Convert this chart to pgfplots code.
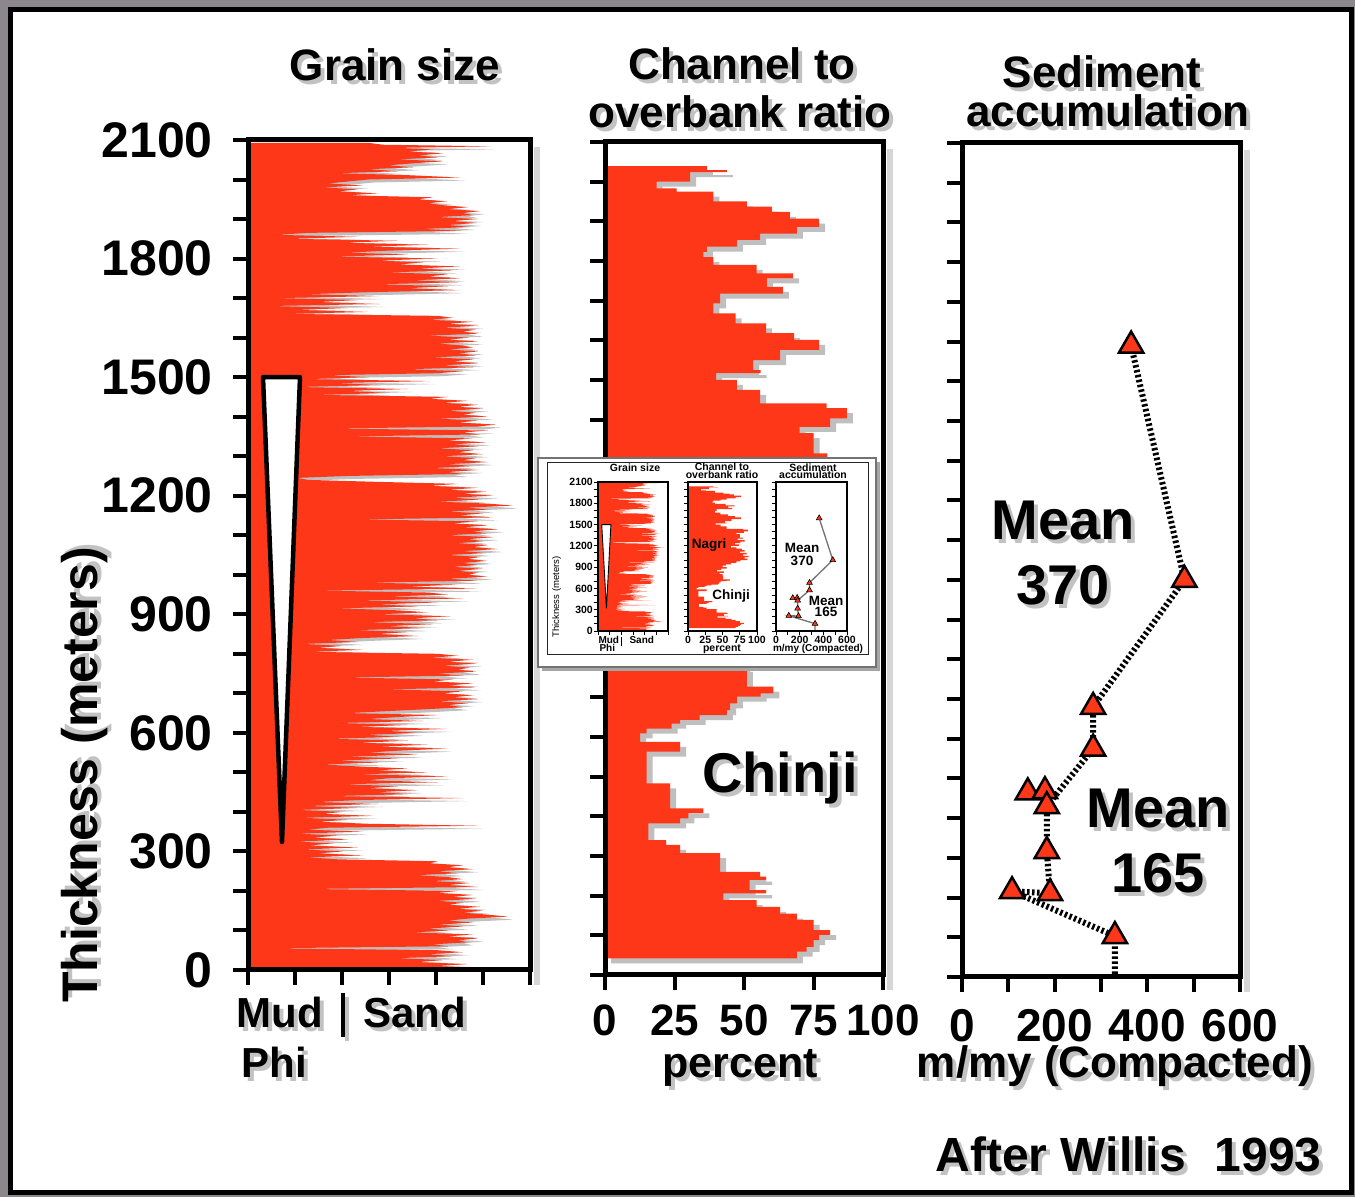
\documentclass[border=0pt]{standalone}
\usepackage{pgfplots}
\pgfplotsset{compat=1.18}
\usepackage{pgfplotstable}
\usepackage{fontspec}
\setmainfont{Liberation Sans}
\definecolor{rd}{RGB}{255,55,25}
\definecolor{bgc}{RGB}{140,135,140}
\newcommand\fs[1]{\fontsize{#1}{#1}\selectfont\bfseries}
\newcommand\fr[1]{\fontsize{#1}{#1}\selectfont}
\newcommand\stxt[3][]{\node[#1,text=black!24,xshift=4pt,yshift=-4pt] at #2 {#3};\node[#1] at #2 {#3};}
\pgfplotsset{
  /pgf/number format/assume math mode=true,
  /pgf/number format/1000 sep={},
  mainax/.style={scale only axis, anchor=south west, axis on top,
    axis line style={line width=5pt},
    tick align=outside, tick pos=left,
    major tick length=15pt, minor tick length=15pt,
    every tick/.style={black,line width=4pt}},
  insetax/.style={scale only axis, anchor=south west, axis on top,
    axis line style={line width=1.3pt},
    tick align=outside, tick pos=left,
    major tick length=4pt, minor tick length=4pt,
    every tick/.style={black,line width=0.9pt},
    ticklabel style={font=\fs{10.5}, inner sep=1pt}},
}
\pgfplotstableread[row sep=\\]{
w y\\ 0 2093\\ 120 2093\\ 135 2088\\ 242 2084\\ 150 2080\\ 185 2076\\ 160 2071\\ 195 2066\\ 170 2061\\ 190 2056\\ 150 2051\\ 195 2046\\ 165 2041\\ 140 2036\\ 165 2031\\ 120 2026\\ 150 2021\\ 89 2016\\ 160 2011\\ 212 2005\\ 120 2000\\
100 1995\\ 80 1990\\ 115 1985\\ 75 1980\\ 110 1975\\ 90 1970\\ 130 1965\\ 100 1960\\ 185 1955\\ 170 1950\\ 199 1945\\ 180 1940\\ 195 1935\\ 220 1930\\ 200 1925\\ 232 1920\\ 215 1915\\ 225 1910\\ 190 1905\\ 230 1900\\
205 1895\\ 228 1890\\ 200 1885\\ 222 1880\\ 175 1875\\ 215 1870\\ 60 1865\\ 29 1860\\ 110 1855\\ 40 1850\\ 150 1845\\ 95 1840\\ 180 1835\\ 120 1830\\ 212 1825\\ 140 1820\\ 100 1815\\ 160 1810\\ 85 1805\\ 190 1800\\
130 1795\\ 175 1790\\ 150 1785\\ 212 1780\\ 170 1775\\ 205 1770\\ 140 1765\\ 200 1760\\ 180 1755\\ 212 1750\\ 165 1745\\ 210 1740\\ 130 1735\\ 200 1730\\ 160 1725\\ 210 1720\\ 122 1715\\ 60 1710\\ 130 1705\\ 30 1700\\
110 1695\\ 70 1690\\ 132 1685\\ 22 1680\\ 100 1675\\ 50 1670\\ 120 1665\\ 40 1660\\ 190 1655\\ 205 1650\\ 182 1645\\ 225 1640\\ 200 1635\\ 230 1630\\ 195 1625\\ 228 1620\\ 215 1615\\ 230 1610\\ 180 1605\\ 222 1600\\
200 1595\\ 230 1590\\ 190 1585\\ 215 1580\\ 225 1575\\ 200 1570\\ 230 1565\\ 210 1560\\ 228 1555\\ 185 1550\\ 226 1545\\ 205 1540\\ 230 1535\\ 195 1530\\ 225 1525\\ 160 1520\\ 215 1515\\ 190 1510\\ 80 1505\\ 120 1500\\
60 1495\\ 182 1490\\ 90 1485\\ 130 1480\\ 49 1475\\ 160 1470\\ 100 1465\\ 140 1460\\ 70 1455\\ 200 1450\\ 182 1445\\ 220 1440\\ 195 1435\\ 230 1430\\ 210 1425\\ 235 1420\\ 200 1415\\ 228 1410\\ 215 1405\\ 240 1400\\
190 1395\\ 230 1390\\ 210 1385\\ 248 1380\\ 230 1375\\ 82 1370\\ 240 1365\\ 215 1360\\ 232 1355\\ 100 1350\\ 225 1345\\ 200 1340\\ 238 1335\\ 205 1330\\ 230 1325\\ 190 1320\\ 225 1315\\ 210 1310\\ 235 1305\\ 195 1300\\
228 1295\\ 215 1290\\ 240 1285\\ 200 1280\\ 225 1275\\ 185 1270\\ 230 1265\\ 200 1260\\ 215 1255\\ 100 1250\\ 49 1245\\ 60 1240\\ 130 1235\\ 210 1230\\ 182 1225\\ 230 1220\\ 200 1215\\ 238 1210\\ 215 1205\\ 245 1200\\
205 1195\\ 232 1190\\ 190 1185\\ 240 1180\\ 265 1175\\ 220 1170\\ 240 1165\\ 200 1160\\ 235 1155\\ 210 1150\\ 245 1145\\ 110 1140\\ 230 1135\\ 205 1130\\ 240 1125\\ 215 1120\\ 250 1115\\ 225 1110\\ 238 1105\\ 200 1100\\
245 1095\\ 220 1090\\ 235 1085\\ 210 1080\\ 240 1075\\ 225 1070\\ 250 1065\\ 215 1060\\ 238 1055\\ 200 1050\\ 232 1045\\ 220 1040\\ 239 1035\\ 215 1030\\ 230 1025\\ 205 1020\\ 235 1015\\ 210 1010\\ 230 1005\\ 220 1000\\
239 995\\ 200 990\\ 229 985\\ 120 980\\ 210 975\\ 160 970\\ 229 965\\ 69 960\\ 180 955\\ 200 950\\ 140 945\\ 215 940\\ 110 935\\ 190 930\\ 130 925\\ 170 920\\ 90 915\\ 150 910\\ 180 905\\ 130 900\\
202 895\\ 165 890\\ 190 885\\ 120 880\\ 185 875\\ 140 870\\ 175 865\\ 109 860\\ 160 855\\ 130 850\\ 170 845\\ 115 840\\ 80 835\\ 110 830\\ 55 825\\ 95 820\\ 70 815\\ 115 810\\ 60 805\\ 190 800\\
210 795\\ 182 790\\ 225 785\\ 200 780\\ 229 775\\ 195 770\\ 222 765\\ 210 760\\ 228 755\\ 190 750\\ 215 745\\ 95 740\\ 205 735\\ 185 730\\ 225 725\\ 200 720\\ 228 715\\ 140 710\\ 215 705\\ 195 700\\
225 695\\ 205 690\\ 229 685\\ 190 680\\ 220 675\\ 200 670\\ 215 665\\ 180 660\\ 140 655\\ 100 650\\ 190 645\\ 150 640\\ 120 635\\ 175 630\\ 90 625\\ 160 620\\ 110 615\\ 199 610\\ 140 605\\ 170 600\\
120 595\\ 150 590\\ 82 585\\ 160 580\\ 110 575\\ 180 570\\ 130 565\\ 199 560\\ 150 555\\ 120 550\\ 170 545\\ 100 540\\ 150 535\\ 90 530\\ 130 525\\ 75 520\\ 110 515\\ 160 510\\ 130 505\\ 180 500\\
110 495\\ 200 490\\ 140 485\\ 120 480\\ 190 475\\ 95 470\\ 150 465\\ 120 460\\ 170 455\\ 130 450\\ 160 445\\ 85 440\\ 215 435\\ 110 430\\ 70 425\\ 130 420\\ 60 415\\ 110 410\\ 50 405\\ 95 400\\
75 395\\ 125 390\\ 55 385\\ 100 380\\ 70 375\\ 120 370\\ 229 365\\ 80 360\\ 60 355\\ 115 350\\ 50 345\\ 90 340\\ 65 335\\ 100 330\\ 49 325\\ 85 320\\ 60 315\\ 110 310\\ 55 305\\ 95 300\\
70 295\\ 115 290\\ 60 285\\ 90 280\\ 190 275\\ 182 270\\ 215 265\\ 200 260\\ 225 255\\ 190 250\\ 210 245\\ 170 240\\ 200 235\\ 215 230\\ 185 225\\ 222 220\\ 200 215\\ 230 210\\ 60 205\\ 210 200\\
190 195\\ 225 190\\ 205 185\\ 228 180\\ 190 175\\ 215 170\\ 200 165\\ 232 160\\ 210 155\\ 235 150\\ 215 145\\ 240 140\\ 260 135\\ 220 130\\ 200 125\\ 225 120\\ 190 115\\ 215 110\\ 180 105\\ 200 100\\
165 95\\ 225 90\\ 200 85\\ 230 80\\ 210 75\\ 220 70\\ 185 65\\ 200 60\\ 22 55\\ 190 50\\ 215 45\\ 180 40\\ 205 35\\ 150 30\\ 195 25\\ 170 20\\ 220 15\\ 190 10\\ 235 5\\ 200 0\\ 0 0\\
}\grain
\pgfplotstableread[row sep=\\]{
p y\\ 0 2039\\ 36.6 2039\\ 36.6 2029\\ 43.8 2029\\ 43.8 2024\\ 30.6 2024\\ 30.6 2000\\ 18.6 2000\\ 18.6 1983\\ 25.8 1983\\ 25.8 1975\\ 39 1975\\ 39 1950\\ 51 1950\\ 51 1937\\ 60 1937\\ 60 1924\\ 66.5 1924\\ 66.5 1907\\ 77 1907\\ 77 1886\\ 69 1886\\ 69 1869\\ 55.8 1869\\ 55.8 1853\\ 47.4 1853\\ 47.4 1836\\ 36.6 1836\\ 36.6 1823\\ 35.4 1823\\ 35.4 1810\\ 39 1810\\ 39 1790\\ 54.5 1790\\ 54.5 1769\\ 67.7 1769\\ 67.7 1756\\ 58.2 1756\\ 58.2 1735\\ 64 1735\\ 64 1718\\ 41.4 1718\\ 41.4 1693\\ 39 1693\\ 39 1668\\ 47 1668\\ 47 1643\\ 58 1643\\ 58 1618\\ 68 1618\\ 68 1601\\ 77 1601\\ 77 1576\\ 63 1576\\ 63 1550\\ 53.3 1550\\ 53.3 1525\\ 56 1525\\ 56 1517\\ 40 1517\\ 40 1500\\ 47.4 1500\\ 47.4 1475\\ 55.8 1475\\ 55.8 1441\\ 79.7 1441\\ 79.7 1429\\ 87 1429\\ 87 1403\\ 81 1403\\ 81 1382\\ 70 1382\\ 70 1366\\ 75 1366\\ 75 1315\\ 80 1315\\ 80 1303\\
72 1303\\ 72 1280\\ 82 1280\\ 82 1260\\ 76 1260\\ 76 1240\\ 68 1240\\ 68 1220\\ 74 1220\\ 74 1200\\ 62 1200\\ 62 1180\\ 70 1180\\ 70 1160\\ 78 1160\\ 78 1140\\ 82 1140\\ 82 1120\\ 75 1120\\ 75 1100\\ 85 1100\\ 85 1080\\ 80 1080\\ 80 1060\\ 88 1060\\ 88 1040\\ 82 1040\\ 82 1020\\ 86 1020\\ 86 1000\\ 76 1000\\ 76 980\\ 70 980\\ 70 960\\ 62 960\\ 62 940\\ 55 940\\ 55 920\\ 50 920\\ 50 900\\ 56 900\\ 56 880\\ 48 880\\ 48 860\\ 42 860\\ 42 840\\ 52 840\\ 52 820\\ 46 820\\ 46 800\\ 50 800\\ 50 777\\
51 777\\ 51 727\\ 60.6 727\\ 60.6 710\\ 56 710\\ 56 702\\ 47.4 702\\ 47.4 685\\ 45 685\\ 45 668\\ 43.8 668\\ 43.8 655\\ 34 655\\ 34 643\\ 27 643\\ 27 634\\ 24 634\\ 24 621\\ 15 621\\ 15 609\\ 12.6 609\\ 12.6 588\\ 27 588\\ 27 563\\ 15 563\\ 15 483\\ 23.4 483\\ 23.4 420\\ 35.4 420\\ 35.4 408\\ 30 408\\ 30 395\\ 27 395\\ 27 382\\ 15.6 382\\ 15.6 340\\ 22 340\\ 22 328\\ 27 328\\ 27 307\\ 41.4 307\\ 41.4 260\\ 55.8 260\\ 55.8 248\\ 58 248\\ 58 240\\ 52 240\\ 52 214\\ 58 214\\ 58 206\\ 42.6 206\\ 42.6 189\\ 54.5 189\\ 54.5 172\\ 63 172\\ 63 155\\ 69 155\\ 69 139\\ 75 139\\ 75 113\\ 81 113\\ 81 101\\ 77 101\\ 77 88\\ 75 88\\ 75 71\\ 72.5 71\\ 72.5 59\\ 69 59\\ 69 42\\ 0 42\\
}\chan
\pgfplotstableread[row sep=\\]{
r y\\ 365 1590\\ 480 1000\\ 283 680\\ 283 575\\ 183 430\\ 183 317\\ 190 211\\ 108 216\\ 330 103\\ 330 0\\
}\accline
\pgfplotstableread[row sep=\\]{
r y\\ 365 1590\\ 480 1000\\ 283 680\\ 283 575\\ 142 465\\ 179 468\\ 183 430\\ 183 317\\ 108 216\\ 190 211\\ 330 103\\
}\accpts
\begin{document}
\begin{tikzpicture}[x=1pt,y=1pt]
\fill[bgc] (0,0) rectangle (1355,1197);
\path[use as bounding box] (0,0) rectangle (1355,1197);
\filldraw[fill=white, draw=black, line width=5pt] (10.5,4) rectangle (1351.5,1187);

% soft shadows to the right of the panel frames
\draw[black!16, line width=6pt] (537,1050) -- (537,212);
\draw[black!16, line width=6pt] (890,1048) -- (890,207);
\draw[black!16, line width=6pt] (1247,1047) -- (1247,205);

% ---------- Panel 1: grain size
\begin{axis}[mainax, at={(248pt,227pt)}, width=282pt, height=830pt,
  xmin=0, xmax=282, ymin=0, ymax=2100,
  xtick={0,47,94,141,188,235,282}, xticklabels={},
  ytick={0,100,...,2100},
  yticklabels={0,,,300,,,600,,,900,,,1200,,,1500,,,1800,,,2100},
  yticklabel style={font=\fs{50}, inner sep=0pt, xshift=-20pt}]
\addplot[fill=black!25, draw=none, xshift=5pt, yshift=-3pt] table[x=w,y=y] {\grain};
\addplot[fill=rd, draw=none] table[x=w,y=y] {\grain};
\addplot[fill=white, draw=black, line width=4.5pt, line join=round, line cap=round] coordinates {(15,1500) (52,1500) (34,324) (15,1500)};
\end{axis}

% ---------- Panel 2: channel to overbank
\begin{axis}[mainax, at={(605pt,222pt)}, width=278pt, height=833pt,
  xmin=0, xmax=100, ymin=0, ymax=2100,
  xtick={0,25,50,75,100}, xticklabels={0,25,50,75,100},
  ytick={0,100,...,2100}, yticklabels={},
  xticklabel style={font=\fs{44}, inner sep=0pt, yshift=-15pt}]
\addplot[fill=black!25, draw=none, xshift=6pt, yshift=-5pt] table[x=p,y=y] {\chan};
\addplot[fill=rd, draw=none] table[x=p,y=y] {\chan};
\end{axis}

% ---------- Panel 3: sediment accumulation
\begin{axis}[mainax, at={(962pt,220pt)}, width=278pt, height=834pt,
  xmin=0, xmax=600, ymin=0, ymax=2100,
  xtick={0,100,...,600}, xticklabels={0,,200,,400,,600},
  ytick={0,100,...,2100}, yticklabels={},
  xticklabel style={font=\fs{46}, inner sep=0pt, yshift=-17pt}]
\addplot[black, line width=6pt, dash pattern=on 2.5pt off 2.5pt] table[x=r,y=y] {\accline};
\addplot[only marks, mark=triangle*, mark size=14pt, mark options={fill=rd, draw=black, line width=2.5pt, solid}] table[x=r,y=y] {\accpts};
\end{axis}

% ---------- Main texts
\stxt[anchor=base, font=\fs{44}]{(395,1116)}{Grain size}
\stxt[anchor=base, font=\fs{44}]{(742,1117)}{Channel to}
\stxt[anchor=base, font=\fs{44}]{(740,1069)}{overbank ratio}
\stxt[anchor=base, font=\fs{44}]{(1102,1109)}{Sediment}
\stxt[anchor=base, font=\fs{44}]{(1108,1070)}{accumulation}
\stxt[anchor=base, rotate=90, font=\fs{50}]{(97,422)}{Thickness (meters)}
\stxt[anchor=base west, font=\fs{42}]{(233,169)}{Mud}
\stxt[anchor=base west, font=\fs{42}]{(360,169)}{Sand}
\stxt[anchor=base west, font=\fs{42}]{(238,119)}{Phi}
\draw[black!24, line width=4pt] (347,200) -- (347,156);
\draw[black, line width=4pt] (343,204) -- (343,160);
\stxt[anchor=base, font=\fs{43}]{(740,119)}{percent}
\stxt[anchor=base, font=\fs{44}]{(1115,119)}{m/my (Compacted)}
\stxt[anchor=base east, font=\fs{48}]{(1325,25)}{After Willis\hspace{0.6em}1993}
\stxt[anchor=base, font=\fs{56}]{(780,404)}{Chinji}
\stxt[anchor=base, font=\fs{56}]{(1063,657)}{Mean}
\stxt[anchor=base, font=\fs{56}]{(1063,592)}{370}
\stxt[anchor=base, font=\fs{56}]{(1158,369)}{Mean}
\stxt[anchor=base, font=\fs{56}]{(1158,304)}{165}

% ---------- Inset
\fill[black!35] (542,526) rectangle (880,735);
\filldraw[fill=white, draw=black!55, line width=2pt] (538,530) rectangle (876,739);
\draw[black!85, line width=1pt] (547,542) rectangle (868,734);

\begin{axis}[insetax, at={(598pt,566pt)}, width=70pt, height=149pt,
  xmin=0, xmax=282, ymin=0, ymax=2100,
  xtick={0,47,94,141,188,235,282}, xticklabels={},
  ytick={0,100,...,2100},
  yticklabels={0,,,300,,,600,,,900,,,1200,,,1500,,,1800,,,2100}]
\addplot[fill=rd, draw=none] table[x=w,y=y] {\grain};
\addplot[fill=white, draw=black, line width=0.9pt, line join=round] coordinates {(15,1500) (52,1500) (34,324) (15,1500)};
\end{axis}
\begin{axis}[insetax, at={(688pt,566pt)}, width=69pt, height=149pt,
  xmin=0, xmax=100, ymin=0, ymax=2100,
  xtick={0,25,50,75,100}, xticklabels={0,25,50,75,100},
  ytick={0,100,...,2100}, yticklabels={}]
\addplot[fill=rd, draw=none] table[x=p,y=y] {\chan};
\end{axis}
\begin{axis}[insetax, at={(776pt,566pt)}, width=71pt, height=149pt,
  xmin=0, xmax=600, ymin=0, ymax=2100,
  xtick={0,100,...,600}, xticklabels={0,,200,,400,,600},
  ytick={0,100,...,2100}, yticklabels={}]
\addplot[black!55, line width=1.3pt] table[x=r,y=y] {\accline};
\addplot[only marks, mark=triangle*, mark size=3.3pt, mark options={fill=rd, draw=black, line width=0.6pt}] table[x=r,y=y] {\accpts};
\end{axis}
\node[anchor=base, font=\fs{10.5}] at (635,725) {Grain size};
\node[anchor=base, font=\fs{10.5}] at (722,726) {Channel to};
\node[anchor=base, font=\fs{10.5}] at (722,718) {overbank ratio};
\node[anchor=base, font=\fs{10.5}] at (813,725) {Sediment};
\node[anchor=base, font=\fs{10.5}] at (813,718) {accumulation};
\node[anchor=base, rotate=90, font=\fr{9.5}] at (559,600) {Thickness (meters)};
\node[anchor=base west, font=\fs{10}] at (595,553) {Mud};
\draw[black, line width=1pt] (621,560) -- (621,551);
\node[anchor=base west, font=\fs{10}] at (626,553) {Sand};
\node[anchor=base west, font=\fs{10}] at (596,545) {Phi};
\node[anchor=base, font=\fs{10.5}] at (722,545) {percent};
\node[anchor=base, font=\fs{10}] at (818,545) {m/my (Compacted)};
\node[anchor=base, font=\fs{13.5}] at (709,648) {Nagri};
\node[anchor=base, font=\fs{13.5}] at (731,597) {Chinji};
\node[anchor=base, font=\fs{13.5}] at (802,644) {Mean};
\node[anchor=base, font=\fs{13.5}] at (802,631) {370};
\node[anchor=base, font=\fs{13.5}] at (826,591) {Mean};
\node[anchor=base, font=\fs{13.5}] at (826,580) {165};
\end{tikzpicture}
\end{document}
